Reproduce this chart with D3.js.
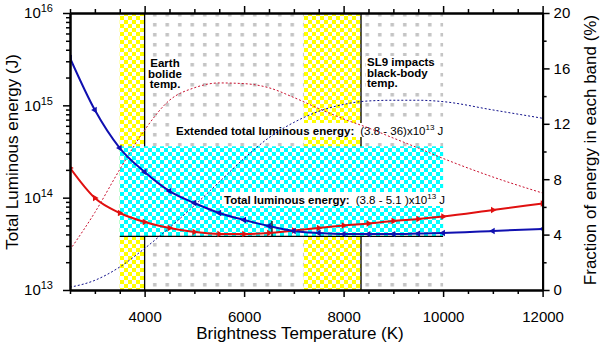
<!DOCTYPE html>
<html>
<head>
<meta charset="utf-8">
<script src="https://cdn.jsdelivr.net/npm/d3@7"></script>
<style>
body { margin: 0; background: #fff; }
svg { font-family: "Liberation Sans", Arial, sans-serif; }
</style>
</head>
<body>
<svg id="chart" width="600" height="344"></svg>
<script>
// data
var temps = [2500, 3000, 3500, 4000, 4500, 5000, 5500, 6000, 6500, 7000, 7500, 8000, 8500, 9000, 9500, 10000, 11000, 12000]
var blueEnergy = [3.26e15, 8.9e14, 3.45e14, 1.9e14, 1.18e14, 8.75e13, 6.82e13, 5.73e13, 4.93e13, 4.36e13, 4.14e13, 4.03e13, 4.03e13, 4.03e13, 4.08e13, 4.14e13, 4.36e13, 4.58e13]
var redEnergy = [2.1e14, 9.9e13, 6.82e13, 5.45e13, 4.69e13, 4.25e13, 4.04e13, 4.04e13, 4.14e13, 4.41e13, 4.69e13, 4.99e13, 5.25e13, 5.59e13, 5.87e13, 6.25e13, 7.35e13, 8.65e13]
var redFraction = [2.9, 5.6, 8.7, 11.55, 13.7, 14.6, 14.95, 14.9, 14.6, 13.9, 13.1, 12.35, 11.7, 10.97, 10.25, 9.5, 8.16, 7.0]
var blueFraction = [0.2, 0.7, 1.66, 3.0, 4.5, 6.1, 7.8, 9.5, 11.0, 12.1, 12.9, 13.4, 13.65, 13.7, 13.7, 13.6, 13.0, 12.4]

var yellowBands = [[3500, 4000], [7200, 8350]]
var grayBand = [4000, 10000]
var cyanTemps = [3500, 10000]
var cyanEnergy = [3.8e13, 3.6e14]
var bandLines = [4000, 8350]
var narrowTemp = 6560
var narrowEnergy = [3.8e13, 5.6e13]

var xTicks = [4000, 6000, 8000, 10000, 12000]
var yTicks = [1e13, 1e14, 1e15, 1e16]
var rTicks = [0, 4, 8, 12, 16, 20]

var svg = d3.select('#chart')
var pLeft = 70, pRight = 542.6, pTop = 13, pBottom = 290

var x = d3.scaleLinear().domain([2500, 12000]).range([pLeft, pRight])
var y = d3.scaleLog().domain([1e13, 1e16]).range([pBottom, pTop])
var yr = d3.scaleLinear().domain([0, 20]).range([pBottom, pTop])

// patterns
var defs = svg.append('defs')
var py = defs.append('pattern').attr('id', 'yel').attr('patternUnits', 'userSpaceOnUse').attr('width', 8).attr('height', 8)
py.append('rect').attr('width', 8).attr('height', 8).attr('fill', '#fff')
py.append('rect').attr('width', 4).attr('height', 4).attr('fill', '#ffff00')
py.append('rect').attr('x', 4).attr('y', 4).attr('width', 4).attr('height', 4).attr('fill', '#ffff00')

var pg = defs.append('pattern').attr('id', 'gry').attr('patternUnits', 'userSpaceOnUse').attr('width', 12.5).attr('height', 10)
pg.append('rect').attr('width', 12.5).attr('height', 10).attr('fill', '#fff')
pg.append('rect').attr('x', 3).attr('y', 3).attr('width', 3.5).attr('height', 3.5).attr('fill', '#c4c4c4')

var pc = defs.append('pattern').attr('id', 'cyn').attr('patternUnits', 'userSpaceOnUse').attr('width', 8).attr('height', 8)
pc.append('rect').attr('width', 8).attr('height', 8).attr('fill', '#fff')
pc.append('rect').attr('width', 4).attr('height', 4).attr('fill', '#00ffff')
pc.append('rect').attr('x', 4).attr('y', 4).attr('width', 4).attr('height', 4).attr('fill', '#00ffff')

defs.append('clipPath').attr('id', 'clip').append('rect')
    .attr('x', pLeft).attr('y', pTop).attr('width', pRight - pLeft).attr('height', pBottom - pTop)

var plot = svg.append('g').attr('clip-path', 'url(#clip)')

// shaded bands
plot.append('rect')
    .attr('x', x(grayBand[0])).attr('width', x(grayBand[1]) - x(grayBand[0]))
    .attr('y', pTop).attr('height', pBottom - pTop).attr('fill', 'url(#gry)')

plot.selectAll('.yband').data(yellowBands).enter().append('rect')
    .attr('x', d => x(d[0])).attr('width', d => x(d[1]) - x(d[0]))
    .attr('y', pTop).attr('height', pBottom - pTop).attr('fill', 'url(#yel)')

plot.selectAll('.bline').data(bandLines).enter().append('line')
    .attr('x1', d => x(d)).attr('x2', d => x(d))
    .attr('y1', pTop).attr('y2', pBottom)
    .attr('stroke', '#000').attr('stroke-width', 1.3)

plot.append('rect')
    .attr('x', x(cyanTemps[0])).attr('width', x(cyanTemps[1]) - x(cyanTemps[0]))
    .attr('y', y(cyanEnergy[1])).attr('height', y(cyanEnergy[0]) - y(cyanEnergy[1]))
    .attr('fill', 'url(#cyn)')

plot.append('line')
    .attr('x1', x(cyanTemps[0])).attr('x2', x(cyanTemps[1]))
    .attr('y1', y(cyanEnergy[0])).attr('y2', y(cyanEnergy[0]))
    .attr('stroke', '#000').attr('stroke-width', 1.3)

plot.append('line')
    .attr('x1', x(narrowTemp)).attr('x2', x(narrowTemp))
    .attr('y1', y(narrowEnergy[0])).attr('y2', y(narrowEnergy[1]))
    .attr('stroke', '#000').attr('stroke-width', 1.3)

// text labels
function label(xp, yp, lines, anchor, bg) {
    var g = plot.append('g')
    var t = g.append('text').attr('x', xp).attr('y', yp).attr('text-anchor', anchor)
        .attr('font-size', 11.5).attr('font-weight', 'bold')
    lines.forEach(function (l, i) {
        t.append('tspan').attr('x', xp).attr('dy', i == 0 ? 0 : 10.5).text(l)
    })
    if (bg) {
        var b = t.node().getBBox()
        g.insert('rect', 'text').attr('x', b.x - 1).attr('y', b.y).attr('width', b.width + 2).attr('height', b.height).attr('fill', '#fff')
    }
}
label(165, 67, ['Earth', 'bolide', 'temp.'], 'middle', true)
label(367, 66, ['SL9 impacts', 'black-body', 'temp.'], 'start', true)

function rangeLabel(xp, yp, head, range) {
    var g = plot.append('g')
    var t = g.append('text').attr('x', xp).attr('y', yp).attr('font-size', 11.5)
    t.append('tspan').attr('font-weight', 'bold').text(head)
    t.append('tspan').attr('dx', 6).text(range + 'x10')
    t.append('tspan').attr('font-size', 8).attr('dy', -5).text('13')
    t.append('tspan').attr('dy', 5).text(' J')
    var b = t.node().getBBox()
    g.insert('rect', 'text').attr('x', b.x - 2).attr('y', b.y).attr('width', b.width + 4).attr('height', b.height).attr('fill', '#fff')
}
rangeLabel(176, 135, 'Extended total luminous energy:', '(3.8 - 36)')
rangeLabel(224, 204, 'Total luminous energy:', '(3.8 - 5.1 )')

// curves
var pts = (vals) => temps.map((t, i) => [t, vals[i]])
var lineL = d3.line().x(d => x(d[0])).y(d => y(d[1])).curve(d3.curveMonotoneX)
var lineR = d3.line().x(d => x(d[0])).y(d => yr(d[1])).curve(d3.curveMonotoneX)

plot.append('path').datum(pts(redFraction)).attr('d', lineR)
    .attr('fill', 'none').attr('stroke', '#c8102e').attr('stroke-width', 1).attr('stroke-dasharray', '2,2')
plot.append('path').datum(pts(blueFraction)).attr('d', lineR)
    .attr('fill', 'none').attr('stroke', '#10108a').attr('stroke-width', 1).attr('stroke-dasharray', '2,2')

plot.append('path').datum(pts(redEnergy)).attr('d', lineL)
    .attr('fill', 'none').attr('stroke', '#e01010').attr('stroke-width', 2)
plot.append('path').datum(pts(blueEnergy)).attr('d', lineL)
    .attr('fill', 'none').attr('stroke', '#1010b0').attr('stroke-width', 2)

var tri = d3.symbol().type(d3.symbolTriangle).size(18)
plot.selectAll('.rm').data(pts(redEnergy)).enter().append('path')
    .attr('d', tri).attr('fill', '#e01010')
    .attr('transform', d => 'translate(' + x(d[0]) + ',' + y(d[1]) + ') rotate(90)')
plot.selectAll('.bm').data(pts(blueEnergy)).enter().append('path')
    .attr('d', tri).attr('fill', '#1010b0')
    .attr('transform', d => 'translate(' + x(d[0]) + ',' + y(d[1]) + ') rotate(-90)')

// axes
var minorX = d3.range(2500, 12001, 500).filter(v => xTicks.indexOf(v) < 0)
var minorY = []
;[1e13, 1e14, 1e15].forEach(function (p) { for (var k = 2; k < 10; k++) minorY.push(p * k) })
var minorR = [2, 6, 10, 14, 18]

function styleAxis(g) {
    g.select('.domain').attr('stroke-width', 2)
    g.selectAll('.tick line').attr('stroke-width', 1.5)
    g.selectAll('text').attr('font-size', 15).attr('fill', '#000')
        .attr('font-family', '"Liberation Sans", Arial, sans-serif')
}

svg.append('g').attr('transform', 'translate(0,' + pBottom + ')')
    .call(d3.axisBottom(x).tickValues(minorX).tickSize(4).tickFormat('').tickSizeOuter(0)).call(styleAxis)
svg.append('g').attr('transform', 'translate(0,' + pBottom + ')')
    .call(d3.axisBottom(x).tickValues(xTicks).tickSize(7).tickPadding(14).tickFormat(d3.format('d')).tickSizeOuter(0)).call(styleAxis)
svg.append('g').attr('transform', 'translate(0,' + pTop + ')')
    .call(d3.axisTop(x).tickValues(minorX).tickSize(4).tickFormat('').tickSizeOuter(0)).call(styleAxis)
svg.append('g').attr('transform', 'translate(0,' + pTop + ')')
    .call(d3.axisTop(x).tickValues(xTicks).tickSize(7).tickFormat('').tickSizeOuter(0)).call(styleAxis)

svg.append('g').attr('transform', 'translate(' + pLeft + ',0)')
    .call(d3.axisLeft(y).tickValues(minorY).tickSize(4).tickFormat('').tickSizeOuter(0)).call(styleAxis)
var yAx = svg.append('g').attr('transform', 'translate(' + pLeft + ',0)')
    .call(d3.axisLeft(y).tickValues(yTicks).tickSize(7).tickPadding(10).tickFormat('').tickSizeOuter(0)).call(styleAxis)
yAx.selectAll('.tick text').each(function (d) {
    var t = d3.select(this).attr('dy', '0.32em')
    t.append('tspan').text('10')
    t.append('tspan').attr('font-size', 11).attr('dy', '-0.55em').text(Math.round(Math.log10(d)))
})

svg.append('g').attr('transform', 'translate(' + pRight + ',0)')
    .call(d3.axisRight(yr).tickValues(minorR).tickSize(4).tickFormat('').tickSizeOuter(0)).call(styleAxis)
svg.append('g').attr('transform', 'translate(' + pRight + ',0)')
    .call(d3.axisRight(yr).tickValues(rTicks).tickSize(7).tickPadding(4).tickSizeOuter(0)).call(styleAxis)

// axis titles
svg.append('text').attr('transform', 'translate(18,152) rotate(-90)')
    .attr('text-anchor', 'middle').attr('font-size', 17).text('Total Luminous energy (J)')
svg.append('text').attr('transform', 'translate(596,150) rotate(-90)')
    .attr('text-anchor', 'middle').attr('font-size', 17).text('Fraction of energy in each band (%)')
svg.append('text').attr('x', 300).attr('y', 339)
    .attr('text-anchor', 'middle').attr('font-size', 17).text('Brightness Temperature (K)')
</script>
</body>
</html>
